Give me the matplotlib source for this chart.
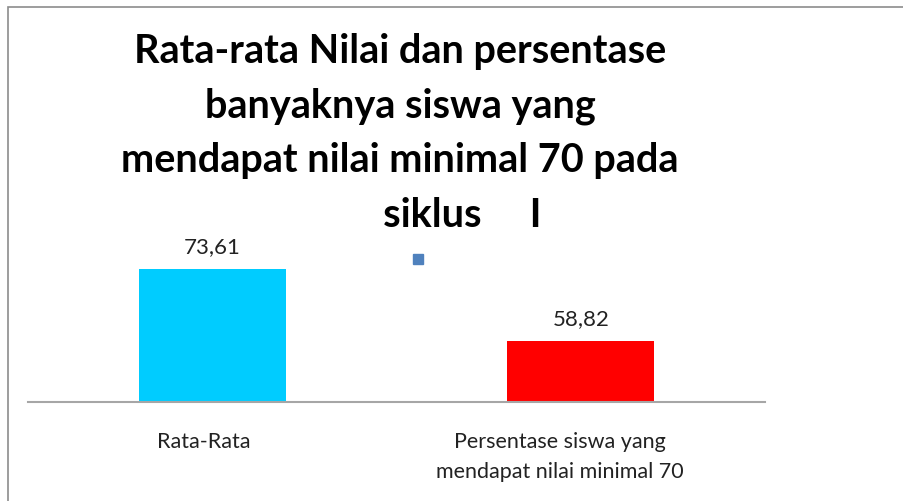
import matplotlib.pyplot as plt
import matplotlib.transforms as mtransforms
from matplotlib.patches import Patch, Rectangle

plt.rcParams['font.family'] = ['Lato', 'DejaVu Sans']

# data
categories = ["Rata-Rata", "Persentase siswa yang\nmendapat nilai minimal 70"]
values = [73.61, 58.82]
value_labels = ["73,61", "58,82"]
bar_colors = ["#00CCFF", "#FF0000"]
title_lines = ["Rata-rata Nilai dan persentase",
               "banyaknya siswa yang",
               "mendapat nilai minimal 70 pada",
               "             siklus     I"]

fig = plt.figure(figsize=(9.04, 5.02), dpi=100)
fig.patches.append(Rectangle((8 / 904, -0.1), 1.2, 1 - 8 / 502 + 0.1,
                             transform=fig.transFigure, fill=False,
                             edgecolor="#8C8C8C", linewidth=1.2))

ax = fig.add_axes([28 / 904, 1 - 403 / 502, 737 / 904, 173 / 502])
x = list(range(len(categories)))
bars = ax.bar(x, values, width=0.40, color=bar_colors)
ax.set_xlim(-0.5, 1.5)
ax.set_ylim(46.3, 81.8)

for b, lab in zip(bars, value_labels):
    ax.annotate(lab, (b.get_x() + b.get_width() / 2, b.get_height()),
                xytext=(0, 9), textcoords="offset points",
                ha="center", va="bottom", fontsize=16, color="#222222")

ax.set_xticks(x)
ax.set_xticklabels(categories, fontsize=15.5, color="#222222", linespacing=1.6)
ax.tick_params(axis="x", length=0, pad=21)
# excel puts the labels slightly left of the bar centres
for lbl, dx in zip(ax.get_xticklabels(), [-8, -21]):
    lbl.set_transform(lbl.get_transform() +
                      mtransforms.ScaledTranslation(dx / 100, 0, fig.dpi_scale_trans))
ax.set_yticks([])
for s in ["top", "left", "right"]:
    ax.spines[s].set_visible(False)
ax.spines["bottom"].set_color("#A6A6A6")
ax.spines["bottom"].set_linewidth(1.5)

fig.text(400 / 904, 1 - 33 / 502, "\n".join(title_lines), ha="center", va="top",
         fontsize=28.5, fontweight="bold", linespacing=1.58)

fig.legend(handles=[Patch(color="#4F81BD")], labels=[""],
           loc="center", bbox_to_anchor=(418 / 904, 1 - 261 / 502),
           frameon=False, handlelength=0.75, handleheight=0.75,
           handletextpad=0, borderpad=0)

fig.savefig("out.png", dpi=100)
